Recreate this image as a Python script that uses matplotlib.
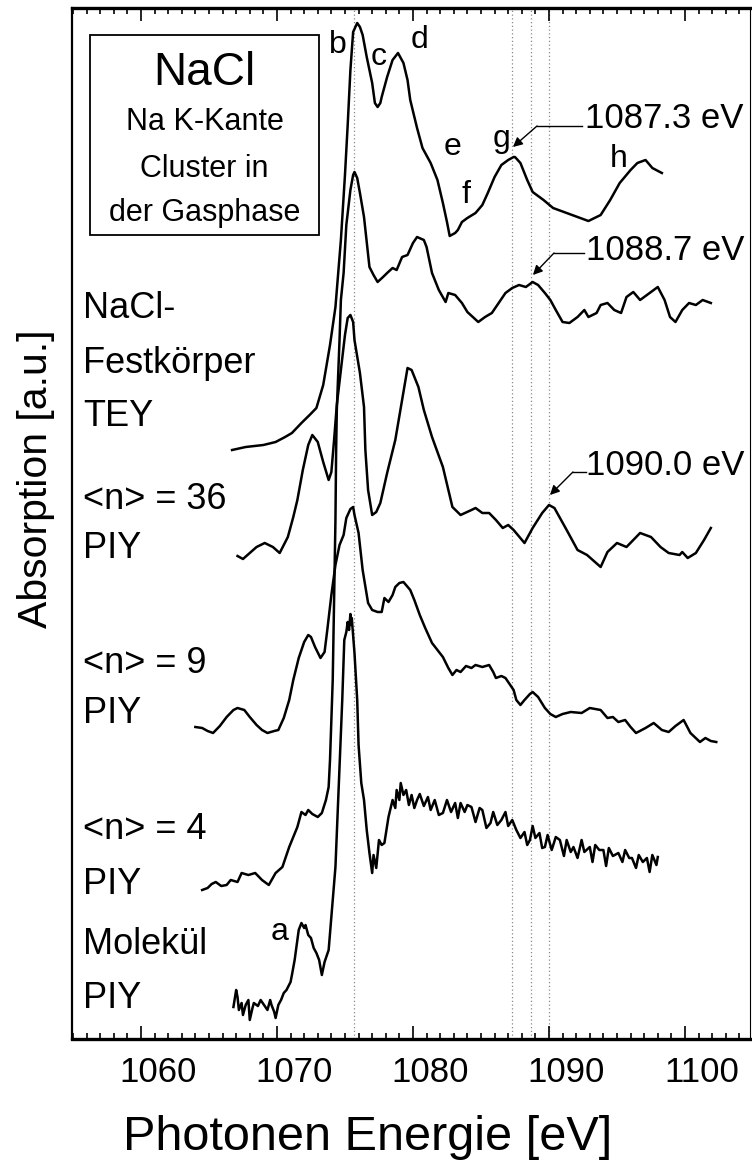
import matplotlib
matplotlib.use("Agg")
import matplotlib.pyplot as plt
from matplotlib.ticker import MultipleLocator
from matplotlib.patches import Rectangle
from matplotlib.transforms import ScaledTranslation

plt.rcParams['font.family'] = ['Liberation Sans', 'DejaVu Sans']

# Festkoerper (TEY), oberste Kurve
tey_e = [1066.7, 1067.7, 1069.0, 1069.9, 1070.6, 1071.1, 1071.8, 1072.4, 1072.9, 1073.4,
         1073.9, 1074.3, 1074.7, 1075.0, 1075.2, 1075.4, 1075.6, 1075.9, 1076.1, 1076.3,
         1076.6, 1077.0, 1077.2, 1077.4, 1077.6, 1077.7, 1078.1, 1078.5, 1078.9, 1079.3,
         1079.6, 1079.8, 1080.3, 1080.7, 1081.3, 1081.8, 1082.2, 1082.5, 1082.7, 1083.1,
         1083.3, 1083.6, 1084.0, 1084.6, 1085.1, 1085.5, 1086.0, 1086.5, 1087.0, 1087.4,
         1087.5, 1087.9, 1088.4, 1088.8, 1089.6, 1090.3, 1091.3, 1092.3, 1092.9, 1093.8,
         1094.5, 1095.2, 1096.0, 1096.5, 1097.1, 1097.6, 1098.3]
tey_a = [589, 592, 594, 597, 602, 606, 616, 624, 631, 654,
         694, 732, 799, 864, 914, 969, 1007, 1016, 1012, 1004,
         982, 956, 936, 932, 936, 942, 962, 979, 986, 976,
         959, 939, 911, 891, 876, 859, 836, 817, 803, 806,
         809, 817, 821, 826, 834, 846, 862, 874, 879, 882,
         882, 876, 859, 847, 839, 831, 826, 821, 818, 824,
         839, 856, 869, 876, 879, 871, 866]

# <n> = 4
n4_e = [1064.5, 1064.9, 1065.2, 1065.5, 1065.9, 1066.3, 1066.6, 1067.1, 1067.4, 1067.9,
        1068.4, 1068.9, 1069.4, 1069.9, 1070.4, 1070.9, 1071.5, 1071.8, 1072.1, 1072.3,
        1072.6, 1073.0, 1073.3, 1073.6, 1073.8, 1073.9, 1074.0, 1074.1, 1074.2, 1074.3,
        1074.35, 1074.4, 1074.6, 1074.7, 1074.9, 1075.1, 1075.4, 1075.6, 1075.7, 1075.9,
        1076.1, 1076.4, 1076.8, 1077.1, 1077.4, 1077.8, 1078.1, 1078.5, 1078.8, 1079.2,
        1079.6, 1080.0, 1080.3, 1080.8, 1081.0, 1081.4, 1081.9, 1082.4, 1082.6, 1083.1,
        1083.6, 1084.0, 1084.8, 1085.3, 1085.8, 1086.3, 1086.8, 1087.3, 1087.8, 1088.3,
        1088.8, 1089.2, 1089.7, 1090.1, 1090.5, 1091.0, 1091.5, 1092.1, 1092.6, 1092.9,
        1093.5, 1093.8, 1094.3, 1094.8, 1095.3, 1095.7, 1096.2, 1096.7, 1097.4, 1098.0,
        1098.5, 1098.9, 1099.3, 1099.8, 1100.3, 1100.8, 1101.3, 1101.9]
n4_a = [149, 151, 155, 157, 153, 154, 159, 157, 166, 164,
        166, 159, 154, 166, 172, 192, 212, 227, 224, 229,
        225, 222, 226, 239, 252, 279, 319, 359, 439, 519,
        589, 629, 699, 739, 766, 814, 849, 864, 867, 861,
        846, 822, 772, 764, 757, 762, 766, 771, 769, 782,
        784, 796, 802, 799, 792, 766, 749, 737, 746, 744,
        736, 727, 717, 722, 726, 736, 746, 751, 754, 752,
        757, 754, 746, 739, 729, 717, 716, 722, 729, 722,
        726, 734, 736, 729, 726, 742, 747, 739, 746, 752,
        739, 722, 717, 729, 736, 734, 739, 736]

# <n> = 36
n36_e = [1067.1, 1067.5, 1068.0, 1068.5, 1069.1, 1069.7, 1070.2, 1070.8, 1071.2, 1071.5,
         1071.9, 1072.3, 1072.6, 1073.0, 1073.4, 1073.8, 1074.0, 1074.2, 1074.4, 1074.7,
         1075.0, 1075.2, 1075.4, 1075.6, 1075.7, 1076.1, 1076.4, 1076.5, 1076.7, 1077.0,
         1077.3, 1077.6, 1078.1, 1078.7, 1079.2, 1079.6, 1079.9, 1080.4, 1080.8, 1081.4,
         1082.2, 1082.9, 1083.5, 1084.3, 1084.6, 1085.1, 1085.6, 1086.1, 1086.6, 1087.0,
         1087.4, 1088.2, 1088.8, 1089.5, 1090.0, 1090.4, 1091.3, 1092.1, 1092.8, 1093.8,
         1094.3, 1095.0, 1095.7, 1096.7, 1097.5, 1098.2, 1098.8, 1099.6, 1099.8, 1100.2,
         1100.8, 1101.4, 1101.9]
n36_a = [483, 480, 486, 492, 496, 492, 486, 502, 522, 539,
         569, 594, 604, 597, 577, 559, 567, 599, 634, 669,
         704, 721, 724, 717, 699, 666, 632, 589, 549, 524,
         527, 536, 566, 599, 639, 671, 669, 652, 629, 602,
         572, 532, 524, 529, 531, 526, 526, 519, 511, 514,
         509, 496, 511, 526, 534, 531, 509, 489, 484, 472,
         487, 496, 492, 506, 502, 492, 486, 484, 487, 481,
         486, 499, 511]

# <n> = 9
n9_e = [1064.0, 1064.5, 1064.9, 1065.3, 1065.8, 1066.3, 1066.8, 1067.1, 1067.6, 1068.0,
        1068.5, 1068.9, 1069.3, 1069.8, 1070.1, 1070.5, 1070.9, 1071.2, 1071.6, 1072.0,
        1072.3, 1072.5, 1072.8, 1073.2, 1073.5, 1073.7, 1074.0, 1074.3, 1074.6, 1074.9,
        1075.1, 1075.4, 1075.6, 1075.7, 1076.0, 1076.3, 1076.7, 1077.0, 1077.4, 1077.7,
        1077.9, 1078.2, 1078.5, 1078.7, 1079.0, 1079.3, 1079.8, 1080.1, 1080.5, 1080.9,
        1081.4, 1081.8, 1082.2, 1082.6, 1082.9, 1083.2, 1083.5, 1083.9, 1084.3, 1084.6,
        1085.1, 1085.6, 1085.9, 1086.1, 1086.5, 1086.8, 1087.1, 1087.4, 1087.6, 1087.9,
        1088.2, 1088.6, 1088.8, 1089.2, 1089.7, 1090.1, 1090.5, 1091.0, 1091.6, 1092.4,
        1093.0, 1093.8, 1094.3, 1094.7, 1095.1, 1095.6, 1096.0, 1096.4, 1097.1, 1097.7,
        1098.3, 1098.8, 1099.3, 1099.9, 1100.4, 1101.1, 1101.5, 1101.9, 1102.3]
n9_a = [312, 311, 308, 306, 313, 322, 329, 331, 329, 322,
        314, 309, 306, 308, 309, 321, 339, 359, 381, 397,
        404, 402, 392, 381, 387, 409, 444, 474, 494, 504,
        521, 530, 532, 524, 506, 469, 436, 429, 427, 427,
        441, 437, 444, 452, 456, 457, 449, 439, 424, 411,
        396, 389, 382, 371, 364, 369, 367, 373, 371, 374,
        372, 374, 367, 361, 363, 361, 355, 349, 339, 334,
        339, 345, 347, 342, 331, 325, 322, 325, 327, 326,
        331, 329, 321, 322, 317, 319, 312, 306, 311, 316,
        309, 307, 313, 319, 306, 297, 301, 298, 297]

# Molekuel
mol_e = [1066.8, 1067.0, 1067.1, 1067.2, 1067.4, 1067.5, 1067.7, 1067.9, 1068.0, 1068.2,
         1068.3, 1068.6, 1068.8, 1069.0, 1069.3, 1069.5, 1069.6, 1069.8, 1069.9, 1070.1,
         1070.3, 1070.5, 1070.7, 1071.0, 1071.1, 1071.3, 1071.5, 1071.6, 1071.8, 1072.0,
         1072.1, 1072.3, 1072.5, 1072.7, 1072.9, 1073.1, 1073.3, 1073.5, 1073.8, 1074.0,
         1074.3, 1074.5, 1074.7, 1074.8, 1074.9, 1074.95, 1075.1, 1075.2, 1075.3, 1075.4,
         1075.45, 1075.5, 1075.6, 1075.7, 1075.9, 1076.0, 1076.2, 1076.4, 1076.6, 1076.8,
         1077.0, 1077.1, 1077.3, 1077.5, 1077.7, 1077.9, 1078.2, 1078.5, 1078.7, 1078.8,
         1079.0, 1079.1, 1079.3, 1079.5, 1079.7, 1079.9, 1080.1, 1080.3, 1080.5, 1080.8,
         1081.1, 1081.3, 1081.6, 1081.9, 1082.2, 1082.5, 1082.8, 1083.1, 1083.3, 1083.5,
         1083.8, 1084.0, 1084.3, 1084.6, 1084.9, 1085.1, 1085.4, 1085.7, 1085.9, 1086.2,
         1086.5, 1086.8, 1087.0, 1087.3, 1087.6, 1087.9, 1088.2, 1088.4, 1088.6, 1088.8,
         1089.0, 1089.3, 1089.5, 1089.7, 1089.9, 1090.2, 1090.5, 1090.8, 1091.1, 1091.3,
         1091.6, 1091.8, 1092.1, 1092.4, 1092.6, 1093.0, 1093.2, 1093.4, 1093.7, 1094.0,
         1094.2, 1094.4, 1094.7, 1095.1, 1095.4, 1095.6, 1095.9, 1096.1, 1096.4, 1096.6,
         1096.9, 1097.2, 1097.4, 1097.6, 1097.9, 1098.0]
mol_a = [32, 49, 42, 29, 36, 24, 34, 39, 19, 31,
         36, 33, 39, 35, 29, 39, 34, 27, 21, 34,
         39, 46, 49, 57, 64, 79, 99, 109, 116, 111,
         114, 104, 101, 91, 86, 79, 64, 77, 89, 122,
         172, 239, 306, 339, 379, 399, 407, 417, 409, 425,
         414, 421, 404, 386, 339, 294, 256, 239, 209, 186,
         166, 184, 171, 199, 194, 196, 222, 239, 231, 249,
         239, 256, 244, 249, 234, 244, 231, 239, 245, 233,
         242, 229, 239, 224, 226, 239, 227, 236, 221, 236,
         227, 234, 232, 217, 231, 229, 211, 216, 227, 214,
         219, 227, 213, 219, 209, 201, 207, 194, 199, 213,
         201, 206, 191, 192, 204, 189, 202, 199, 183, 199,
         187, 192, 181, 199, 187, 192, 177, 194, 189, 189,
         173, 191, 183, 186, 177, 189, 181, 181, 171, 184,
         177, 181, 167, 184, 174, 182]

kurven = [(tey_e, tey_a), (n4_e, n4_a), (n36_e, n36_a), (n9_e, n9_a), (mol_e, mol_a)]

# Markierungen
dot_e = [1075.7, 1087.3, 1088.7, 1090.0]

label_txt = ["NaCl-", "Festkörper", "TEY", "<n> = 36", "PIY", "<n> = 9", "PIY",
             "<n> = 4", "PIY", "Molekül", "PIY"]
label_a = [721, 666, 613, 530, 481, 366, 316, 200, 145, 85, 31]

buchst = ["a", "b", "c", "d", "e", "f", "g", "h"]
buchst_e = [1070.2, 1074.5, 1077.5, 1080.5, 1082.9, 1083.9, 1086.5, 1095.1]
buchst_a = [99, 986, 974, 991, 884, 836, 892, 872]

# Pfeile: Text, Spitze, Knick, Linienende
pfeil_txt = ["1087.3 eV", "1088.7 eV", "1090.0 eV"]
pfeil_spitze = [(1087.35, 892), (1088.82, 764), (1090.07, 544)]
pfeil_knick = [(1089.12, 913), (1090.37, 786), (1091.76, 567)]
pfeil_ende = [1092.43, 1092.57, 1092.72]
pfeil_text_pos = [(1092.65, 911), (1092.72, 779), (1092.72, 564)]

fig = plt.figure(figsize=(7.52, 11.71), dpi=100)
ax = fig.add_axes([72 / 752, 1 - 1039 / 1171, 678 / 752, 1031 / 1171])

for e in dot_e:
    ax.axvline(e, color='#888888', ls=(0, (1, 2)), lw=0.9, zorder=1)

for e, a in kurven:
    ax.plot(e, a, color='black', lw=1.8, zorder=3)

for t, a in zip(label_txt, label_a):
    ax.text(1055.75, a, t, fontsize=26, ha='left', va='baseline')

for t, e, a in zip(buchst, buchst_e, buchst_a):
    ax.text(e, a, t, fontsize=23, ha='center', va='baseline')

for t, sp, kn, en, tp in zip(pfeil_txt, pfeil_spitze, pfeil_knick, pfeil_ende, pfeil_text_pos):
    ax.plot([kn[0], en], [kn[1], kn[1]], color='black', lw=1.0)
    ax.annotate('', xy=sp, xytext=kn,
                arrowprops=dict(arrowstyle='-|>', color='black', lw=1.0,
                                mutation_scale=14, shrinkA=0, shrinkB=0))
    ax.text(tp[0], tp[1], t, fontsize=25, ha='left', va='baseline')

# Kasten oben links
ax.add_patch(Rectangle((1056.25, 804), 16.84, 200, fill=False, lw=1.3, ec='black', zorder=4))
ax.text(1064.67, 954, "NaCl", fontsize=33, ha='center', va='baseline')
ax.text(1064.67, 909, "Na K-Kante", fontsize=22, ha='center', va='baseline')
ax.text(1064.67, 862, "Cluster in", fontsize=22, ha='center', va='baseline')
ax.text(1064.67, 818, "der Gasphase", fontsize=22, ha='center', va='baseline')

ax.set_xlim(1054.93, 1104.78)
ax.set_ylim(0, 1031)
ax.set_yticks([])
ax.set_xticks([1060, 1070, 1080, 1090, 1100])
ax.xaxis.set_minor_locator(MultipleLocator(1))
ax.tick_params(axis='x', which='both', direction='in', top=True, bottom=True,
               labelsize=25, pad=12, width=1.2)
ax.tick_params(axis='x', which='major', length=9.5)
ax.tick_params(axis='x', which='minor', length=4.5)
ax.spines['bottom'].set_linewidth(2.4)
ax.spines['top'].set_linewidth(2.4)
ax.spines['left'].set_linewidth(1.6)
ax.spines['right'].set_linewidth(0.8)

# die Zahlen sitzen im Original etwas rechts neben den Strichen
versatz = ScaledTranslation(17 / 100, 0, fig.dpi_scale_trans)
for lab in ax.get_xticklabels():
    lab.set_transform(lab.get_transform() + versatz)

fig.text(368 / 752, 1 - 1138 / 1171, "Photonen Energie [eV]", fontsize=35,
         ha='center', va='center')
fig.text(36 / 752, 1 - 479 / 1171, "Absorption [a.u.]", fontsize=29.5,
         ha='center', va='center', rotation=90)

fig.savefig("out.png", dpi=100)
